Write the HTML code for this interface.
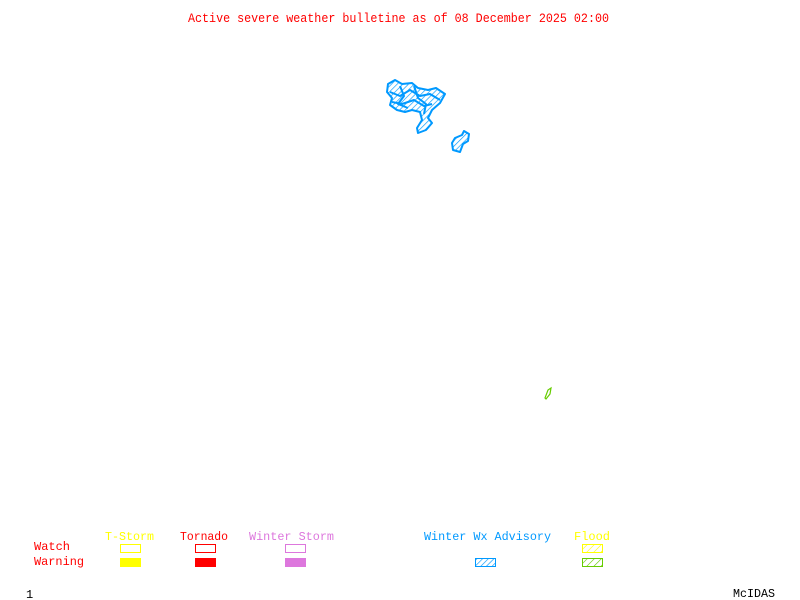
<!DOCTYPE html>
<html><head><meta charset="utf-8"><style>
html,body{margin:0;padding:0;background:#fff;width:800px;height:600px;overflow:hidden}
text{font-family:"Liberation Mono",monospace;font-size:12px}
</style></head><body>
<svg width="800" height="600" xmlns="http://www.w3.org/2000/svg">
<defs>
<pattern id="hb" width="4" height="4" patternUnits="userSpaceOnUse" patternTransform="rotate(45)"><line x1="0" y1="0" x2="0" y2="4" stroke="#0099ff" stroke-width="1.3"/></pattern>
<pattern id="hy" width="5" height="5" patternUnits="userSpaceOnUse" patternTransform="rotate(45)"><line x1="0" y1="0" x2="0" y2="5" stroke="#ffff00" stroke-width="1.2"/></pattern>
<pattern id="hg" width="5" height="5" patternUnits="userSpaceOnUse" patternTransform="rotate(45)"><line x1="0" y1="0" x2="0" y2="5" stroke="#66cc00" stroke-width="1.2"/></pattern>
</defs>
<text x="188" y="22" fill="#ff0000" textLength="421" lengthAdjust="spacingAndGlyphs" style="font-size:12.5px">Active severe weather bulletine as of 08 December 2025 02:00</text>
<g fill="url(#hb)" stroke="#0099ff" stroke-width="2" stroke-linejoin="round">
<polygon points="388,84 395,80 402,84 412,83 418,88 428,90 436,88 445,94 440,103 432,110 428,118 432,123 426,130 418,133 417,128 422,120 420,112 412,110 405,112 397,110 390,105 392,98 387,92"/>
<polyline fill="none" points="390,92 400,96 410,90 420,96 430,94 440,100"/>
<polyline fill="none" points="392,102 402,104 414,100 424,106 432,104"/>
<polyline fill="none" points="400,86 404,96 398,104 408,108"/>
<polyline fill="none" points="414,86 418,98 426,104 424,114"/>
<polygon points="455,138 462,135 464,131 469,134 468,141 463,144 460,152 453,150 452,143"/>
</g>
<polygon points="545,398 548,390 551,388 550,394 546,399" fill="none" stroke="#66cc00" stroke-width="1.2"/>
<text x="34" y="550" fill="#ff0000" textLength="36" lengthAdjust="spacingAndGlyphs">Watch</text>
<text x="34" y="565" fill="#ff0000" textLength="50" lengthAdjust="spacingAndGlyphs">Warning</text>
<text x="105" y="540" fill="#ffff00" textLength="49" lengthAdjust="spacingAndGlyphs">T-Storm</text>
<text x="180" y="540" fill="#ff0000" textLength="48" lengthAdjust="spacingAndGlyphs">Tornado</text>
<text x="249" y="540" fill="#dd77dd" textLength="85" lengthAdjust="spacingAndGlyphs">Winter Storm</text>
<text x="424" y="540" fill="#0099ff" textLength="127" lengthAdjust="spacingAndGlyphs">Winter Wx Advisory</text>
<text x="574" y="540" fill="#ffff00" textLength="36" lengthAdjust="spacingAndGlyphs">Flood</text>
<rect x="120.5" y="544.5" width="20" height="8" fill="none" stroke="#ffff00"/>
<rect x="120" y="558" width="21" height="9" fill="#ffff00"/>
<rect x="195.5" y="544.5" width="20" height="8" fill="none" stroke="#ff0000"/>
<rect x="195" y="558" width="21" height="9" fill="#ff0000"/>
<rect x="285.5" y="544.5" width="20" height="8" fill="none" stroke="#dd77dd"/>
<rect x="285" y="558" width="21" height="9" fill="#dd77dd"/>
<rect x="475.5" y="558.5" width="20" height="8" fill="url(#hb)" stroke="#0099ff"/>
<rect x="582.5" y="544.5" width="20" height="8" fill="url(#hy)" stroke="#ffff00"/>
<rect x="582.5" y="558.5" width="20" height="8" fill="url(#hg)" stroke="#66cc00"/>
<text x="26" y="598" fill="#000">1</text>
<text x="733" y="597" fill="#000" textLength="42" lengthAdjust="spacingAndGlyphs">McIDAS</text>
</svg>
</body></html>
